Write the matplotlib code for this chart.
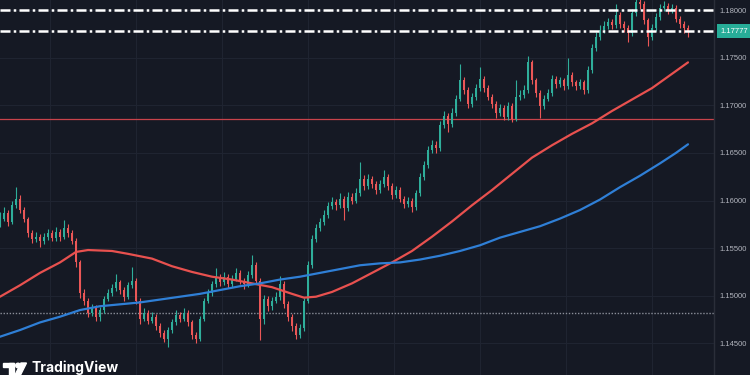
import matplotlib
matplotlib.use('Agg')
import matplotlib.pyplot as plt
import matplotlib.transforms as mtransforms
from matplotlib.patches import Rectangle, Circle, Polygon
import numpy as np

# candle data (open = previous close)
first_open = 1.1577
closes = [
    1.1581, 1.1587, 1.1577, 1.1595, 1.1602, 1.1590, 1.1581, 1.1566, 1.1560, 1.1562,
    1.1557, 1.1562, 1.1566, 1.1561, 1.1567, 1.1562, 1.1571, 1.1566, 1.1558, 1.1535,
    1.1503, 1.1495, 1.1482, 1.1487, 1.1478, 1.1485, 1.1497, 1.1503, 1.1508, 1.1514,
    1.1506, 1.1499, 1.1511, 1.1516, 1.1495, 1.1476, 1.1482, 1.1474, 1.1478, 1.1468,
    1.1461, 1.1455, 1.1464, 1.1472, 1.1480, 1.1476, 1.1482, 1.1472, 1.1459, 1.1455,
    1.1476, 1.1495, 1.1503, 1.1512, 1.1520, 1.1514, 1.1520, 1.1512, 1.1518, 1.1524,
    1.1516, 1.1512, 1.1522, 1.1532, 1.1516, 1.1476, 1.1497, 1.1489, 1.1495, 1.1499,
    1.1512, 1.1491, 1.1478, 1.1468, 1.1459, 1.1466, 1.1495, 1.1532, 1.1560, 1.1571,
    1.1577, 1.1585, 1.1594, 1.1598, 1.1595, 1.1602, 1.1592, 1.1604, 1.1600, 1.1608,
    1.1623, 1.1615, 1.1623, 1.1617, 1.1611, 1.1617, 1.1625, 1.1615, 1.1606, 1.1611,
    1.1602, 1.1596, 1.1600, 1.1593, 1.1608, 1.1625, 1.1637, 1.1653, 1.1658, 1.1655,
    1.1679, 1.1689, 1.1680, 1.1692, 1.1707, 1.1726, 1.1716, 1.1701, 1.1709, 1.1718,
    1.1728, 1.1718, 1.1709, 1.1701, 1.1692, 1.1697, 1.1688, 1.1699, 1.1686, 1.1709,
    1.1711, 1.1716, 1.1745, 1.1726, 1.1713, 1.1699, 1.1707, 1.1713, 1.1728, 1.1722,
    1.1726, 1.1720, 1.1732, 1.1724, 1.1720, 1.1724, 1.1716, 1.1737, 1.1760, 1.1772,
    1.1779, 1.1783, 1.1787, 1.1784, 1.1795, 1.1785, 1.1781, 1.1776, 1.1797, 1.1808,
    1.1806, 1.1789, 1.1772, 1.1781, 1.1793, 1.1802, 1.1804, 1.1800, 1.1802, 1.1791,
    1.1785, 1.1781, 1.17777,
]
highs = [
    1.1588, 1.1593, 1.1590, 1.1599, 1.1614, 1.1606, 1.1593, 1.1583, 1.1569, 1.1567,
    1.1565, 1.1566, 1.1570, 1.1569, 1.1572, 1.1570, 1.1580, 1.1575, 1.1569, 1.1561,
    1.1538, 1.1507, 1.1498, 1.1491, 1.1490, 1.1488, 1.1500, 1.1507, 1.1512, 1.1523,
    1.1517, 1.1509, 1.1514, 1.1530, 1.1519, 1.1498, 1.1487, 1.1485, 1.1483, 1.1481,
    1.1471, 1.1464, 1.1467, 1.1476, 1.1485, 1.1483, 1.1487, 1.1485, 1.1475, 1.1462,
    1.1479, 1.1498, 1.1507, 1.1516, 1.1529, 1.1523, 1.1525, 1.1523, 1.1522, 1.1529,
    1.1527, 1.1519, 1.1526, 1.1543, 1.1535, 1.1519, 1.1501, 1.1500, 1.1499, 1.1504,
    1.1521, 1.1515, 1.1494, 1.1481, 1.1471, 1.1470, 1.1498, 1.1536, 1.1564, 1.1575,
    1.1582, 1.1590, 1.1598, 1.1604, 1.1602, 1.1608, 1.1605, 1.1609, 1.1608, 1.1613,
    1.1640, 1.1627, 1.1628, 1.1626, 1.1620, 1.1622, 1.1632, 1.1628, 1.1618, 1.1615,
    1.1614, 1.1605, 1.1604, 1.1603, 1.1611, 1.1629, 1.1641, 1.1657, 1.1663, 1.1662,
    1.1683, 1.1694, 1.1692, 1.1697, 1.1711, 1.1743, 1.1730, 1.1719, 1.1713, 1.1722,
    1.1740, 1.1731, 1.1721, 1.1712, 1.1704, 1.1701, 1.1700, 1.1703, 1.1702, 1.1727,
    1.1716, 1.1721, 1.1752, 1.1748, 1.1729, 1.1716, 1.1711, 1.1717, 1.1732, 1.1731,
    1.1730, 1.1729, 1.1750, 1.1735, 1.1727, 1.1728, 1.1727, 1.1741, 1.1764, 1.1777,
    1.1784, 1.1788, 1.1792, 1.1791, 1.1806, 1.1798, 1.1788, 1.1784, 1.1801, 1.1816,
    1.1814, 1.1809, 1.1792, 1.1785, 1.1797, 1.1806, 1.1809, 1.1807, 1.1806, 1.1805,
    1.1794, 1.1788, 1.1784,
]
lows = [
    1.1572, 1.1578, 1.1573, 1.1575, 1.1592, 1.1587, 1.1577, 1.1562, 1.1555, 1.1556,
    1.1551, 1.1554, 1.1559, 1.1557, 1.1558, 1.1558, 1.1560, 1.1562, 1.1554, 1.1530,
    1.1498, 1.1490, 1.1478, 1.1479, 1.1473, 1.1474, 1.1482, 1.1494, 1.1500, 1.1505,
    1.1502, 1.1494, 1.1497, 1.1508, 1.1491, 1.1470, 1.1473, 1.1470, 1.1471, 1.1464,
    1.1457, 1.1451, 1.1446, 1.1461, 1.1469, 1.1472, 1.1474, 1.1468, 1.1455, 1.1450,
    1.1452, 1.1473, 1.1492, 1.1500, 1.1509, 1.1510, 1.1511, 1.1508, 1.1509, 1.1515,
    1.1512, 1.1507, 1.1509, 1.1519, 1.1512, 1.1454, 1.1470, 1.1484, 1.1485, 1.1492,
    1.1496, 1.1487, 1.1473, 1.1463, 1.1455, 1.1456, 1.1463, 1.1492, 1.1529, 1.1556,
    1.1568, 1.1574, 1.1582, 1.1591, 1.1590, 1.1592, 1.1580, 1.1589, 1.1596, 1.1597,
    1.1605, 1.1611, 1.1612, 1.1613, 1.1607, 1.1608, 1.1614, 1.1611, 1.1602, 1.1603,
    1.1598, 1.1592, 1.1593, 1.1588, 1.1590, 1.1605, 1.1622, 1.1634, 1.1650, 1.1650,
    1.1652, 1.1676, 1.1672, 1.1677, 1.1689, 1.1704, 1.1712, 1.1697, 1.1698, 1.1706,
    1.1715, 1.1714, 1.1705, 1.1697, 1.1687, 1.1689, 1.1684, 1.1685, 1.1682, 1.1683,
    1.1705, 1.1708, 1.1713, 1.1722, 1.1709, 1.1687, 1.1696, 1.1704, 1.1710, 1.1718,
    1.1719, 1.1716, 1.1717, 1.1720, 1.1716, 1.1717, 1.1712, 1.1713, 1.1734, 1.1757,
    1.1768, 1.1776, 1.1780, 1.1780, 1.1781, 1.1781, 1.1777, 1.1766, 1.1773, 1.1794,
    1.1801, 1.1785, 1.1762, 1.1768, 1.1778, 1.1790, 1.1799, 1.1796, 1.1797, 1.1787,
    1.1781, 1.1776, 1.1772,
]

# moving averages, read at bar positions
red_ma_idx = [0, 5, 10, 15, 19, 22, 28, 32, 38, 43, 48, 53, 58, 63, 68, 73, 76, 79,
              83, 88, 93, 98, 103, 108, 113, 118, 123, 128, 133, 138, 143, 148, 153,
              158, 163, 168, 172]
red_ma = [1.1499, 1.1511, 1.1524, 1.1535, 1.1546, 1.1548, 1.1547, 1.1544, 1.1539,
          1.1531, 1.1525, 1.1520, 1.1517, 1.1513, 1.1509, 1.1502, 1.1498, 1.1499,
          1.1504, 1.1513, 1.1524, 1.1535, 1.1547, 1.1562, 1.1578, 1.1595, 1.1611,
          1.1628, 1.1645, 1.1658, 1.1670, 1.1681, 1.1694, 1.1706, 1.1718, 1.1733,
          1.1745]
blue_ma_idx = [0, 5, 10, 15, 20, 25, 30, 35, 40, 45, 50, 55, 60, 65, 70, 75, 80, 85,
               90, 95, 100, 105, 110, 115, 120, 125, 130, 135, 140, 145, 150, 155,
               160, 165, 169, 172]
blue_ma = [1.1457, 1.1464, 1.1472, 1.1478, 1.1485, 1.1489, 1.1491, 1.1493, 1.1496,
           1.1499, 1.1502, 1.1506, 1.1510, 1.1513, 1.1517, 1.1520, 1.1524, 1.1528,
           1.1532, 1.1534, 1.1535, 1.1538, 1.1542, 1.1547, 1.1553, 1.1561, 1.1567,
           1.1573, 1.1581, 1.1590, 1.1601, 1.1614, 1.1626, 1.1639, 1.1650, 1.1659]

level_top = 1.18000
level_last = 1.17777
level_red = 1.16855
level_dotted = 1.1482
price_ticks = [1.145, 1.150, 1.155, 1.160, 1.165, 1.170, 1.175, 1.180]
vgrid_idx = [12.5, 34, 55.5, 77, 98.5, 120, 141.5, 163]

bg = '#151924'
up_col = '#2fae9b'
down_col = '#eb5757'

fig = plt.figure(figsize=(7.5, 3.75), dpi=100, facecolor=bg)
ax = fig.add_axes([0, 0, 714 / 750, 1])
ax.set_facecolor(bg)

# grid
for p in price_ticks:
    ax.axhline(p, color='#1f2431', lw=0.8, zorder=0)
for v in vgrid_idx:
    ax.axvline(v, color='#1f2431', lw=0.8, zorder=0)

# candles
opens = [first_open] + closes[:-1]
x = np.arange(len(closes))
o = np.array(opens)
c = np.array(closes)
cols = [up_col if cc >= oo else down_col for oo, cc in zip(o, c)]
ax.vlines(x, lows, highs, colors=cols, lw=0.8, zorder=3)
heights = np.maximum(np.abs(c - o), 0.00004)
ax.bar(x, heights, bottom=np.minimum(o, c), width=0.74, color=cols, lw=0, zorder=4)

# moving averages
ax.plot(red_ma_idx, red_ma, color='#e8514f', lw=1.6, zorder=5,
        solid_capstyle='round', solid_joinstyle='round')
ax.plot(blue_ma_idx, blue_ma, color='#2f7fd6', lw=1.6, zorder=5,
        solid_capstyle='round', solid_joinstyle='round')

# horizontal levels
ax.axhline(level_red, color='#c9434b', lw=0.9, zorder=2)
ax.axhline(level_dotted, color='#8a8e99', lw=1.0, linestyle=(0, (1, 1.2)), zorder=2)
for lv in (level_top, level_last):
    ax.axhline(lv, color='white', lw=1.8, linestyle=(0, (4, 1.3, 1, 1.3)), zorder=6)

ax.set_xlim(0, 178.5)
ax.set_ylim(1.14168, 1.18105)

# price scale on the right
ax.yaxis.tick_right()
ax.set_yticks(price_ticks)
ax.set_yticklabels([f'{p:.5f}' for p in price_ticks], fontfamily='Liberation Sans')
ax.tick_params(axis='y', length=0, pad=4, labelsize=5.5, labelcolor='#b2b5be')
ax.set_xticks([])
for s in ('top', 'bottom', 'left'):
    ax.spines[s].set_visible(False)
ax.spines['right'].set_color('#2a2e39')
ax.spines['right'].set_linewidth(1)

trans = mtransforms.blended_transform_factory(ax.transAxes, ax.transData)
ax.text(1.0 + 6 / 714, level_last, f'{level_last:.5f}', transform=trans,
        ha='left', va='center', fontsize=5.5, fontfamily='Liberation Sans',
        color='white', clip_on=False,
        bbox=dict(boxstyle='square,pad=0.45', fc='#27ad98', ec='none'), zorder=10)

# TradingView logo
ov = fig.add_axes([0, 0, 1, 1])
ov.set_xlim(0, 750)
ov.set_ylim(375, 0)
ov.axis('off')
ov.patch.set_alpha(0)
ov.add_patch(Rectangle((3, 363), 11, 4, color='white'))
ov.add_patch(Rectangle((9, 363), 5, 12, color='white'))
ov.add_patch(Circle((18, 365.5), 2.3, color='white'))
ov.add_patch(Polygon([(15, 375), (20.5, 375), (26.5, 363), (21, 363)], color='white'))
ov.text(31, 372, 'TradingView', fontsize=10, fontfamily='Inter', fontweight='bold',
        color='white', ha='left', va='baseline')

fig.savefig('out.png', dpi=100, facecolor=bg)
